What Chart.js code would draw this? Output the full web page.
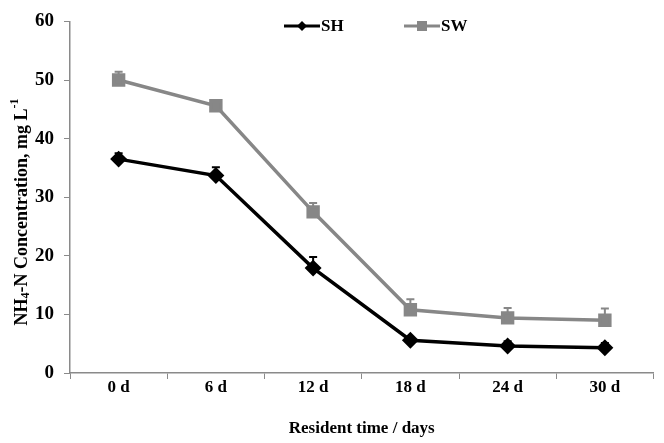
<!DOCTYPE html>
<html>
<head>
<meta charset="utf-8">
<script src="https://cdn.jsdelivr.net/npm/chart.js@4"></script>
<style>
html,body{margin:0;padding:0;background:#fff}
#wrap{width:664px;height:443px;position:relative}
</style>
</head>
<body>
<div id="wrap"><canvas id="c"></canvas></div>
<script>
// ===== DATA =====
const days=['0 d','6 d','12 d','18 d','24 d','30 d'];
const sh=[36.5,33.7,17.9,5.6,4.6,4.3];
const shErr=[1.0,1.4,1.9,0.4,0.8,0.8];
const sw=[50.0,45.6,27.5,10.8,9.4,9.0];
const swErr=[1.4,1.0,1.5,1.8,1.7,2.0];
const yTicks=[0,10,20,30,40,50,60];

const BLACK='#000000',GREY='#878787',AXIS='#8a8a8a';
const FONT="'Liberation Serif','Times New Roman',serif";

// upper error bars with caps, drawn from the chart scales
const errBars={
  id:'errBars',
  beforeDatasetsDraw(chart){
    const ctx=chart.ctx,x=chart.scales.x,y=chart.scales.y;
    [[sh,shErr,BLACK],[sw,swErr,GREY]].forEach(([vals,errs,col])=>{
      ctx.save();ctx.strokeStyle=col;ctx.lineWidth=2;
      vals.forEach((v,i)=>{
        const px=x.getPixelForValue(i),hi=y.getPixelForValue(v+errs[i]),mid=y.getPixelForValue(v);
        ctx.beginPath();ctx.moveTo(px,mid);ctx.lineTo(px,hi);
        ctx.moveTo(px-4,hi);ctx.lineTo(px+4,hi);ctx.stroke();
      });
      ctx.restore();
    });
  }
};

// y title with real sub/superscripts
const yTitle={
  id:'yTitle',
  afterDraw(chart){
    const ctx=chart.ctx;
    const parts=[['NH',18,0],['4',12,4],['-N Concentration, mg L',18,0],['-1',12,-7]];
    ctx.save();
    ctx.translate(22,212);ctx.rotate(-Math.PI/2);
    ctx.fillStyle='#000';ctx.textBaseline='middle';
    let w=0;
    parts.forEach(p=>{ctx.font='bold '+p[1]+'px '+FONT;w+=ctx.measureText(p[0]).width;});
    let xx=-w/2;
    parts.forEach(p=>{ctx.font='bold '+p[1]+'px '+FONT;ctx.fillText(p[0],xx,p[2]);xx+=ctx.measureText(p[0]).width;});
    ctx.restore();
  }
};

// legend drawn inside the plot, like the original
const legendIn={
  id:'legendIn',
  afterDraw(chart){
    const ctx=chart.ctx;
    const items=[{l:'SH',c:BLACK,x:284,s:'d'},{l:'SW',c:GREY,x:404,s:'s'}];
    const yy=26;
    ctx.save();
    items.forEach(it=>{
      ctx.strokeStyle=it.c;ctx.lineWidth=3;
      ctx.beginPath();ctx.moveTo(it.x,yy);ctx.lineTo(it.x+36,yy);ctx.stroke();
      ctx.fillStyle=it.c;
      const cx=it.x+18;
      ctx.beginPath();
      if(it.s==='d'){ctx.moveTo(cx,yy-5);ctx.lineTo(cx+5,yy);ctx.lineTo(cx,yy+5);ctx.lineTo(cx-5,yy);}
      else{ctx.rect(cx-5,yy-5,10,10);}
      ctx.fill();
      ctx.fillStyle='#000';ctx.font='bold 17px '+FONT;ctx.textBaseline='middle';
      ctx.fillText(it.l,it.x+37,yy+1);
    });
    ctx.restore();
  }
};

new Chart(document.getElementById('c'),{
  type:'line',
  data:{labels:days,datasets:[
    {label:'SH',data:sh,borderColor:BLACK,backgroundColor:BLACK,borderWidth:3.5,pointStyle:'rectRot',pointRadius:6,pointHoverRadius:6,tension:0},
    {label:'SW',data:sw,borderColor:GREY,backgroundColor:GREY,borderWidth:3.5,pointStyle:'rect',pointRadius:7,pointHoverRadius:7,tension:0}
  ]},
  options:{
    responsive:true,maintainAspectRatio:false,animation:false,
    layout:{padding:{top:12,right:7,left:0,bottom:0}},
    plugins:{legend:{display:false},tooltip:{enabled:false}},
    scales:{
      x:{
        offset:true,
        grid:{display:true,offset:true,drawOnChartArea:false,color:AXIS,tickLength:6},
        border:{color:AXIS,width:1.5},
        ticks:{color:'#000',font:{family:FONT,size:17,weight:'bold'},padding:-2,maxRotation:0},
        title:{display:true,text:'Resident time / days',color:'#000',font:{family:FONT,size:17,weight:'bold'},padding:{top:12}},
        afterFit:s=>{s.height=70;}
      },
      y:{
        min:0,max:60,
        afterBuildTicks:s=>{s.ticks=yTicks.map(v=>({value:v}));},
        grid:{display:true,drawOnChartArea:false,color:AXIS,tickLength:6},
        border:{color:AXIS,width:1.5},
        ticks:{color:'#000',font:{family:FONT,size:19,weight:'bold'},padding:10},
        afterFit:s=>{s.width=70;}
      }
    }
  },
  plugins:[errBars,yTitle,legendIn]
});
</script>
</body>
</html>
